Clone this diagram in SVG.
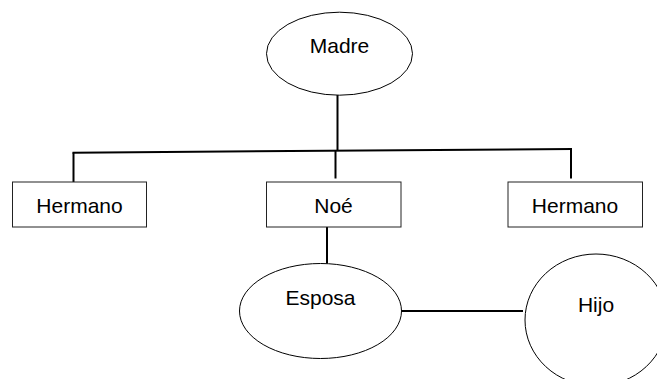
<svg xmlns="http://www.w3.org/2000/svg" width="657" height="379" viewBox="0 0 657 379">
<style>
.shape{fill:#fff;stroke:#000;stroke-width:1}
.box{fill:#fff;stroke:#222;stroke-width:1}
.lbl{font-family:"Liberation Sans",Arial,sans-serif;font-size:21px;fill:#000;text-anchor:middle}
.conn{stroke:#000;stroke-width:2;fill:none}
</style>
<rect width="657" height="379" fill="#fff"/>
<g id="connectors">
<line class="conn" x1="337.5" y1="95" x2="337.5" y2="150.5"/>
<line class="conn" x1="72.5" y1="152.7" x2="572" y2="149"/>
<line class="conn" x1="73.5" y1="152.5" x2="73.5" y2="182"/>
<line class="conn" x1="335.5" y1="150.5" x2="335.5" y2="178.5"/>
<line class="conn" x1="571" y1="149" x2="571" y2="178.5"/>
<line class="conn" x1="327" y1="227" x2="327" y2="263.5"/>
<line class="conn" x1="401.5" y1="311" x2="523" y2="311"/>
</g>
<g id="madre">
<ellipse class="shape" cx="339.5" cy="53.7" rx="73" ry="41.5"/>
<text class="lbl" x="339.5" y="52.5">Madre</text>
</g>
<g id="hermano1">
<rect class="box" x="12.5" y="182" width="134" height="45"/>
<text class="lbl" x="79.5" y="212.5">Hermano</text>
</g>
<g id="noe">
<rect class="box" x="266.5" y="182" width="134.5" height="45"/>
<text class="lbl" x="333.5" y="212.5">Noé</text>
</g>
<g id="hermano2">
<rect class="box" x="508" y="182" width="134.5" height="45"/>
<text class="lbl" x="575" y="212.5">Hermano</text>
</g>
<g id="esposa">
<ellipse class="shape" cx="320.5" cy="311" rx="81" ry="47.5"/>
<text class="lbl" x="320.5" y="305">Esposa</text>
</g>
<g id="hijo">
<ellipse class="shape" cx="596" cy="320" rx="71" ry="66"/>
<text class="lbl" x="596" y="311.5">Hijo</text>
</g>
</svg>
